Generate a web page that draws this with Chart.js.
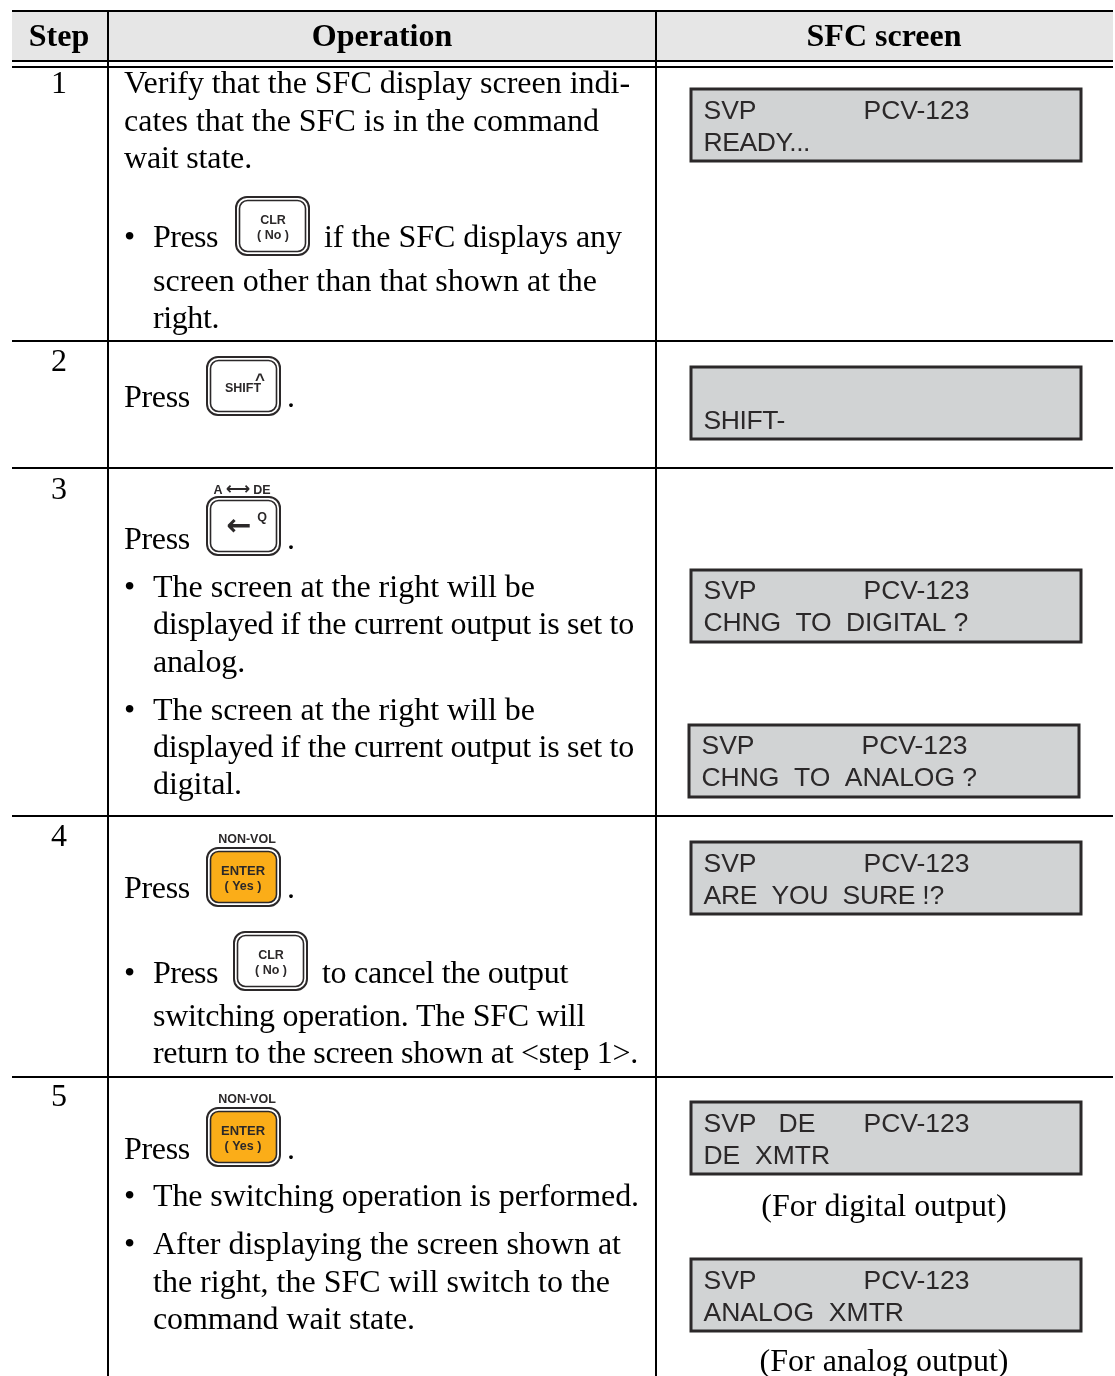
<!DOCTYPE html>
<html>
<head>
    <title>SFC output switching procedure</title>
    <script src="https://cdnjs.cloudflare.com/ajax/libs/Chart.js/4.4.1/chart.umd.min.js"></script>
    <style>
        html, body { margin: 0; padding: 0; background: #fff; }
        canvas { display: block; }
    </style>
</head>
<body>
    <canvas id="myChart" width="1115" height="1376"></canvas>
    <script>
        // table content
        var headers = ['Step', 'Operation', 'SFC screen'];
        var steps = ['1', '2', '3', '4', '5'];
        var operationText = [
            'Verify that the SFC display screen indi-',
            'cates that the SFC is in the command',
            'wait state.',
            '\u2022', 'Press', 'if the SFC displays any',
            'screen other than that shown at the',
            'right.',
            'Press', '.',
            'Press', '.',
            '\u2022', 'The screen at the right will be',
            'displayed if the current output is set to',
            'analog.',
            '\u2022', 'The screen at the right will be',
            'displayed if the current output is set to',
            'digital.',
            'Press', '.',
            '\u2022', 'Press', 'to cancel the output',
            'switching operation. The SFC will',
            'return to the screen shown at <step 1>.',
            'Press', '.',
            '\u2022', 'The switching operation is performed.',
            '\u2022', 'After displaying the screen shown at',
            'the right, the SFC will switch to the',
            'command wait state.'
        ];
        var screenLine1 = ['SVP', '', 'SVP', 'SVP', 'SVP', 'SVP   DE', 'SVP'];
        var screenTag = ['PCV-123', '', 'PCV-123', 'PCV-123', 'PCV-123', 'PCV-123', 'PCV-123'];
        var screenLine2 = ['READY...', 'SHIFT-', 'CHNG  TO  DIGITAL ?', 'CHNG  TO  ANALOG ?', 'ARE  YOU  SURE !?', 'DE  XMTR', 'ANALOG  XMTR'];
        var captions = ['(For digital output)', '(For analog output)'];
        var keyNames = ['CLR', 'SHIFT', 'ARROW', 'ENTER', 'CLR', 'ENTER'];

        // layout, in page pixels
        var rowRules = [341, 468, 816, 1077];
        var columnRules = [108, 656];
        var headerX = [59, 382, 884];
        var stepBase = [93, 371, 499, 846, 1106];
        var opX = [124, 124, 124, 124, 153, 324, 153, 153, 124, 287, 124, 287, 124, 153, 153, 153, 124, 153, 153, 153, 124, 287, 124, 153, 322, 153, 153, 124, 287, 124, 153, 124, 153, 153, 153];
        var opY = [93, 131, 168, 247, 247, 247, 291, 328, 407, 407, 549, 549, 597, 597, 634, 672, 720, 720, 757, 794, 898, 898, 983, 983, 983, 1026, 1063, 1159, 1159, 1206, 1206, 1254, 1254, 1292, 1329];
        // right edge each line is fitted to, 0 = leave as set
        var opEnd = [630, 599, 252, 0, 218, 622, 597, 219, 190, 0, 190, 0, 0, 535, 634, 245, 0, 535, 634, 242, 190, 0, 0, 218, 568, 585, 638, 190, 0, 0, 639, 0, 621, 610, 415];
        var boxLeft = [691, 691, 691, 689, 691, 691, 691];
        var boxTop = [89, 367, 570, 725, 842, 1102, 1259];
        var screenLine1Y = [119, 0, 599, 754, 872, 1132, 1289];
        var screenLine2Y = [151, 429, 631, 786, 904, 1164, 1321];
        var screenEnd = [810, 785, 968, 977, 944, 830, 904];
        var captionY = [1216, 1371];
        var keyLeft = [236, 207, 207, 207, 234, 207];
        var keyTop = [197, 357, 497, 848, 932, 1108];

        var SERIF = '"Liberation Serif", serif';
        var SANS = '"Liberation Sans", Arial, sans-serif';
        var INK = '#2b2829';

        function rule(x1, y1, x2, y2, width) {
            return {
                type: 'line', showLine: true, order: 1,
                data: [{ x: x1, y: y1 }, { x: x2, y: y2 }],
                borderColor: '#000', borderWidth: width, pointRadius: 0, fill: false
            };
        }

        function panel(x1, y1, x2, y2, fillColor, lineColor, width, order) {
            return {
                type: 'line', showLine: true, order: order, tension: 0,
                data: [{ x: x1, y: y1 }, { x: x2, y: y1 }, { x: x2, y: y2 }, { x: x1, y: y2 }, { x: x1, y: y1 }],
                backgroundColor: fillColor, borderColor: lineColor, borderWidth: width,
                borderCapStyle: 'square', pointRadius: 0, fill: 'shape'
            };
        }

        var datasets = [panel(12, 12, 1113, 61, '#e6e6e6', 'rgba(0,0,0,0)', 0, 3)];
        boxLeft.forEach(function (x, i) {
            datasets.push(panel(x, boxTop[i], x + 390, boxTop[i] + 72, '#d1d3d4', INK, 3, 2));
        });
        datasets.push(rule(12, 11, 1113, 11, 2));
        datasets.push(rule(12, 61, 1113, 61, 2));
        datasets.push(rule(12, 67, 1113, 67, 2));
        rowRules.forEach(function (y) { datasets.push(rule(12, y, 1113, y, 2)); });
        columnRules.forEach(function (x) { datasets.push(rule(x, 11, x, 1376, 2)); });

        function put(ctx, text, x, y, font, align, color, end) {
            ctx.font = font;
            ctx.textAlign = align || 'left';
            ctx.fillStyle = color || '#000';
            ctx.textBaseline = 'alphabetic';
            ctx.letterSpacing = '0px';
            if (end) {
                var spare = end - x - ctx.measureText(text).width;
                ctx.letterSpacing = (spare / text.length).toFixed(3) + 'px';
            }
            ctx.fillText(text, x, y);
            ctx.letterSpacing = '0px';
        }

        function roundBox(ctx, x, y, w, h, r) {
            ctx.beginPath();
            ctx.roundRect(x, y, w, h, r);
        }

        function drawKey(ctx, name, x, y) {
            var w = 73, h = 58;
            ctx.lineWidth = 2;
            ctx.strokeStyle = INK;
            ctx.fillStyle = '#fff';
            roundBox(ctx, x, y, w, h, 11);
            ctx.fill();
            ctx.stroke();
            ctx.fillStyle = name === 'ENTER' ? '#fbad18' : '#fff';
            roundBox(ctx, x + 3.5, y + 3.5, w - 7, h - 7, 8);
            ctx.fill();
            ctx.lineWidth = 1.6;
            ctx.stroke();
            var cx = x + 37;
            var small = 'bold 12.5px ' + SANS;
            if (name === 'CLR') {
                put(ctx, 'CLR', cx, y + 27, small, 'center', INK);
                put(ctx, '( No )', cx, y + 42, small, 'center', INK);
            } else if (name === 'ENTER') {
                put(ctx, 'ENTER', cx - 1, y + 27, 'bold 13px ' + SANS, 'center', INK);
                put(ctx, '( Yes )', cx - 1, y + 42, small, 'center', INK);
                put(ctx, 'NON-VOL', cx + 3, y - 5, small, 'center', INK);
            } else if (name === 'SHIFT') {
                put(ctx, 'SHIFT', cx - 1, y + 35, small, 'center', INK);
                put(ctx, '^', x + 53, y + 28, 'bold 17px ' + SANS, 'center', INK);
            } else if (name === 'ARROW') {
                put(ctx, 'A', x + 11, y - 3, small, 'center', INK);
                put(ctx, '\u27F7', x + 31, y - 3, 'bold 17px "DejaVu Sans"', 'center', INK);
                put(ctx, 'DE', x + 55, y - 3, small, 'center', INK);
                put(ctx, '\u2190', x + 32, y + 38, 'bold 30px "DejaVu Sans"', 'center', INK);
                put(ctx, 'Q', x + 55, y + 24, small, 'center', INK);
            }
        }

        var tablePlugin = {
            id: 'tableText',
            afterDatasetsDraw: function (chart) {
                var ctx = chart.ctx, sx = chart.scales.x, sy = chart.scales.y;
                var body = '32px ' + SERIF;
                ctx.save();
                headers.forEach(function (t, i) {
                    put(ctx, t, sx.getPixelForValue(headerX[i]), sy.getPixelForValue(46), 'bold 32px ' + SERIF, 'center');
                });
                steps.forEach(function (t, i) {
                    put(ctx, t, sx.getPixelForValue(headerX[0]), sy.getPixelForValue(stepBase[i]), body, 'center');
                });
                operationText.forEach(function (t, i) {
                    put(ctx, t, sx.getPixelForValue(opX[i]), sy.getPixelForValue(opY[i]), body, 'left', '#000', opEnd[i]);
                });
                screenLine2.forEach(function (t, i) {
                    var x = sx.getPixelForValue(boxLeft[i] + 12.5);
                    var lcd = '26.5px ' + SANS;
                    put(ctx, screenLine1[i], x, sy.getPixelForValue(screenLine1Y[i]), lcd, 'left', INK);
                    put(ctx, screenTag[i], x + 160, sy.getPixelForValue(screenLine1Y[i]), lcd, 'left', INK);
                    put(ctx, t, x, sy.getPixelForValue(screenLine2Y[i]), lcd, 'left', INK, screenEnd[i]);
                });
                captions.forEach(function (t, i) {
                    put(ctx, t, sx.getPixelForValue(headerX[2]), sy.getPixelForValue(captionY[i]), body, 'center');
                });
                keyNames.forEach(function (k, i) {
                    drawKey(ctx, k, sx.getPixelForValue(keyLeft[i]), sy.getPixelForValue(keyTop[i]));
                });
                ctx.restore();
            }
        };

        var myChart = new Chart(document.getElementById('myChart').getContext('2d'), {
            type: 'line',
            data: { datasets: datasets },
            options: {
                responsive: false,
                animation: false,
                layout: { padding: 0 },
                scales: {
                    x: { type: 'linear', display: false, min: 0, max: 1115 },
                    y: { type: 'linear', display: false, min: 0, max: 1376, reverse: true }
                },
                plugins: { legend: { display: false }, tooltip: { enabled: false } }
            },
            plugins: [tablePlugin]
        });
    </script>
</body>
</html>
